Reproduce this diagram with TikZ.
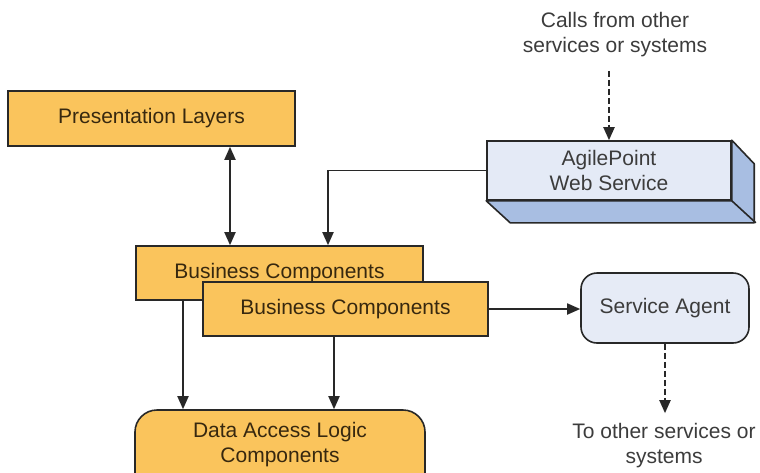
\documentclass[tikz,border=0pt]{standalone}
\usepackage{fontspec}
\setmainfont{Liberation Sans}
\usetikzlibrary{arrows.meta}
\definecolor{boxorange}{RGB}{250,196,92}
\definecolor{facefront}{RGB}{228,234,246}
\definecolor{faceside}{RGB}{168,190,226}
\definecolor{agentblue}{RGB}{230,235,246}
\definecolor{linegray}{RGB}{40,40,40}
\definecolor{textbrown}{RGB}{55,40,15}
\definecolor{textgray}{RGB}{60,60,60}

\begin{document}
\begin{tikzpicture}[x=1pt,y=-1pt,font=\fontsize{21}{25}\selectfont,
  >={Triangle[length=13pt,width=11pt]},
  comp/.style={draw=linegray,line width=1.6pt,fill=boxorange,text=textbrown,minimum height=54pt},
  conn/.style={draw=linegray,line width=1.8pt},
  call/.style={conn,line width=2pt,dash pattern=on 6pt off 3pt}]
  \clip (0,0) rectangle (760,472);
  \fill[white] (0,0) rectangle (760,472);
  \coordinate (px) at (230,0);
  \coordinate (ax) at (328,0);
  \coordinate (lx) at (183,0);
  \coordinate (rx) at (334,0);
  % left column
  \node[comp,minimum width=287pt,minimum height=55pt] (pres) at (151.5,118.5) {Presentation Layers};
  \node[comp,minimum width=287pt] (bcA) at (279.5,273) {Business Components};
  \node[comp,rounded corners=22pt,minimum width=290pt,minimum height=100pt,
    label={[align=center,text=textbrown,yshift=15pt]center:Data Access Logic\\Components}] (dal) at (280,460) {};
  \draw[conn,->] (bcA.south -| lx) -- (dal.north -| lx);
  \node[comp,minimum width=285pt] (bcB) at (345.5,309) {Business Components};
  \draw[conn,->] (bcB.south -| rx) -- (dal.north -| rx);
  \draw[conn,<->] (pres.south -| px) -- (bcA.north -| px);
  % web service box
  \node[draw=linegray,line width=1.6pt,fill=facefront,text=textgray,align=center,
    minimum width=244pt,minimum height=59pt] (agile) at (609,170.5) {AgilePoint\\Web Service};
  \draw[draw=linegray,line width=1.6pt,fill=faceside,line join=round]
    (agile.south west) -- ++(24,22) -- ++(244,0) -- ++(0,-59) -- (agile.north east) -- (agile.south east) -- cycle;
  \draw[draw=linegray,line width=1.6pt] (agile.south east) -- ++(24,22);
  \node[text=textgray,align=center] (calls) at (615,35) {Calls from other\\services or systems};
  \draw[call,->,shorten <=10pt] (calls.south -| agile.north) -- (agile.north);
  \draw[conn,->] (agile.west) -| (ax |- bcA.north);
  % service agent
  \node[draw=linegray,line width=1.6pt,fill=agentblue,text=textgray,rounded corners=16pt,
    minimum width=168pt,minimum height=70pt] (sa) at (665,308) {Service Agent};
  \node[text=textgray,align=center] (other) at (664,446) {To other services or\\systems};
  \draw[conn,->] (bcB.east) -- (bcB.east -| sa.west);
  \draw[call,->,shorten >=7pt] (sa.south) -- (sa.south |- other.north);
\end{tikzpicture}
\end{document}
